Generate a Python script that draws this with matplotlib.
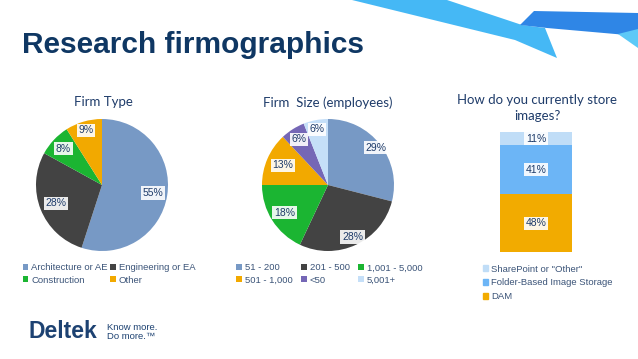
import matplotlib.pyplot as plt
from matplotlib.patches import Polygon, Patch

# data
type_labels = ["Architecture or AE", "Engineering or EA", "Construction", "Other"]
type_values = [55, 28, 8, 9]

size_labels = ["51 - 200", "201 - 500", "1,001 - 5,000", "501 - 1,000", "<50", "5,001+"]
size_values = [29, 28, 18, 13, 6, 6]

store_labels = ["DAM", "Folder-Based Image Storage", 'SharePoint or "Other"']
store_values = [48, 41, 11]

NAVY = "#0f3763"
TXT = "#1f3c6a"
LEG = "#3b5478"

type_colors = ["#7799c5", "#434343", "#1bb532", "#f2a900"]
size_colors = ["#7799c5", "#434343", "#1bb532", "#f2a900", "#7567b6", "#c5dff8"]
store_colors = ["#f2ab00", "#6cb5f6", "#c0ddf7"]

W, H = 638, 359
fig = plt.figure(figsize=(W / 100, H / 100), dpi=100)
fig.patch.set_facecolor("white")


def fx(x):
    return x / W


def fy(y):
    return 1 - y / H


# ribbon decoration top right
ribbon = [
    ([(352, 0), (447, 0), (522, 25), (545, 28), (557, 58), (515, 40)], "#45b8f5"),
    ([(520, 25), (534, 11), (638, 13), (638, 36), (547, 28)], "#2f86e6"),
    ([(618, 34), (638, 29), (638, 48)], "#5cc9f7"),
]
for pts, col in ribbon:
    fig.patches.append(Polygon([(fx(x), fy(y)) for x, y in pts], closed=True,
                               transform=fig.transFigure, fc=col, ec="none"))

fig.text(fx(22), fy(45), "Research firmographics", fontsize=21.5, fontweight="bold",
         color=NAVY, family="Liberation Sans", va="center", ha="left")

label_box = dict(boxstyle="square,pad=0.15", fc="white", ec="none", alpha=0.9)


def draw_pie(ax, values, colors, radii):
    wedges, _, autotexts = ax.pie(values, colors=colors, startangle=90, counterclock=False,
                                  autopct="%d%%", pctdistance=0.8,
                                  wedgeprops=dict(linewidth=0))
    for t, r in zip(autotexts, radii):
        x, y = t.get_position()
        t.set_position((x / 0.8 * r, y / 0.8 * r))
        t.set_color(TXT)
        t.set_fontsize(7.5)
        t.set_family("Liberation Sans")
        t.set_bbox(label_box)
    ax.set_xlim(-1, 1)
    ax.set_ylim(-1, 1)
    ax.set_aspect("equal")
    return wedges


leg_kw = dict(frameon=False, handlelength=0.6, handleheight=0.6, handletextpad=0.3,
              labelcolor=LEG, prop={"family": "Liberation Sans", "size": 6.8})

# pie 1
r = 66
ax1 = fig.add_axes([fx(102 - r), fy(185 + r), fx(2 * r), 2 * r / H])
w1 = draw_pie(ax1, type_values, type_colors, [0.78, 0.75, 0.8, 0.86])
fig.text(fx(103), fy(102), "Firm Type", fontsize=9.5, color=TXT, family="Lato",
         ha="center", va="center")
order1 = [0, 2, 1, 3]
fig.legend([w1[i] for i in order1], [type_labels[i] for i in order1], ncol=2,
           loc="upper left", bbox_to_anchor=(fx(14), fy(255)),
           columnspacing=0.3, labelspacing=0.35, **leg_kw)

# pie 2
ax2 = fig.add_axes([fx(328 - r), fy(185 + r), fx(2 * r), 2 * r / H])
w2 = draw_pie(ax2, size_values, size_colors, [0.92, 0.87, 0.78, 0.75, 0.82, 0.86])
fig.text(fx(328), fy(103), "Firm  Size (employees)", fontsize=9.5, color=TXT, family="Lato",
         ha="center", va="center")
order2 = [0, 3, 1, 4, 2, 5]
fig.legend([w2[i] for i in order2], [size_labels[i] for i in order2], ncol=3,
           loc="upper left", bbox_to_anchor=(fx(228), fy(255)),
           columnspacing=0.9, labelspacing=0.35, **leg_kw)

# stacked bar
ax3 = fig.add_axes([fx(500), fy(252), fx(72), 120 / H])
bottom = 0
for v, c in zip(store_values, store_colors):
    ax3.bar(0, v, bottom=bottom, width=1, color=c, linewidth=0)
    ax3.text(0, bottom + v / 2, f"{v}%", ha="center", va="center", fontsize=7.5,
             color=TXT, family="Liberation Sans", bbox=label_box)
    bottom += v
ax3.set_xlim(-0.5, 0.5)
ax3.set_ylim(0, 100)
ax3.axis("off")
fig.text(fx(537), fy(108), "How do you currently store\nimages?", fontsize=9.5, color=TXT,
         family="Lato", ha="center", va="center", linespacing=1.4)
handles3 = [Patch(color=c) for c in store_colors][::-1]
fig.legend(handles3, store_labels[::-1], loc="upper left", bbox_to_anchor=(fx(474), fy(256)),
           labelspacing=0.5, **leg_kw)

# logo
fig.text(fx(28), fy(331), "Deltek", fontsize=16.5, fontweight="bold", color="#1d4272",
         family="Liberation Sans", ha="left", va="center")
fig.text(fx(107), fy(332), "Know more.\nDo more.\u2122", fontsize=6.8, color="#1d4272",
         family="Liberation Sans", ha="left", va="center", linespacing=1.0)

fig.savefig("out.png", dpi=100, facecolor="white")
